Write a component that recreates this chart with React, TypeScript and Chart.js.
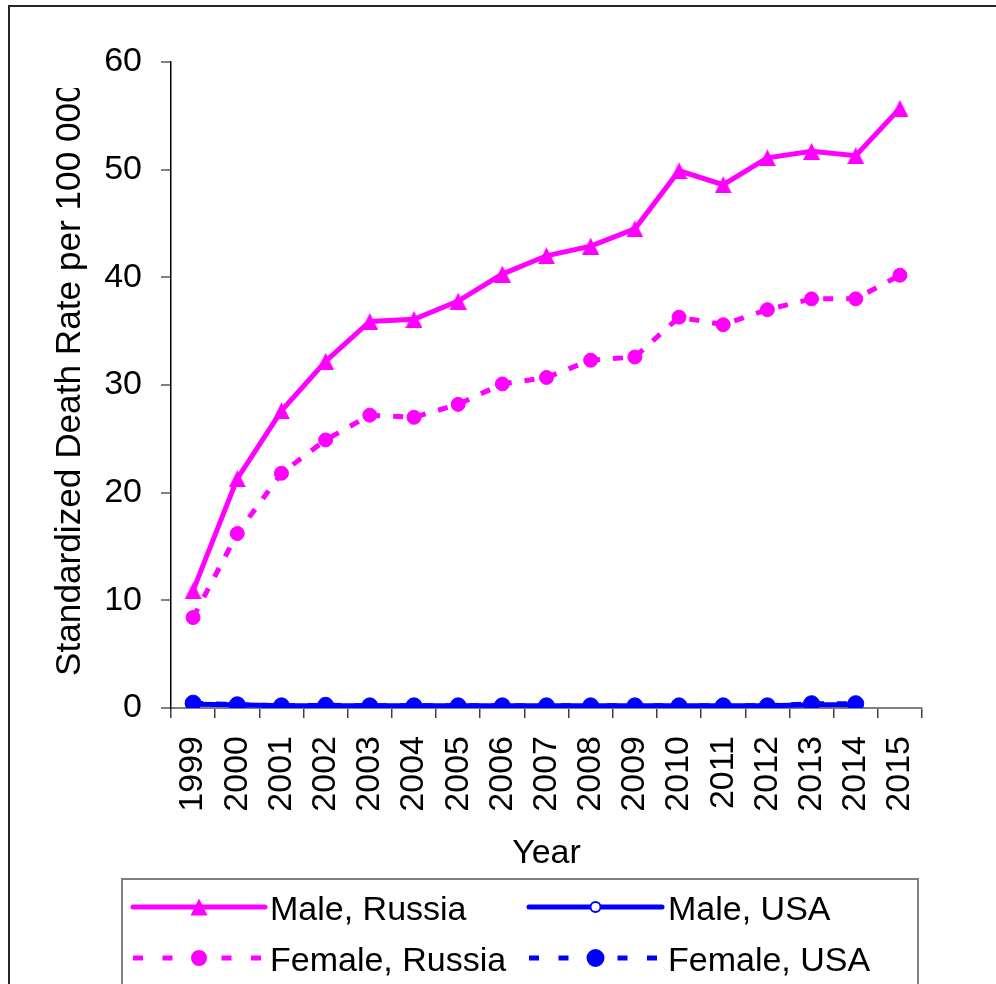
import { useEffect, useRef } from "react";
import { Chart, registerables } from "chart.js";

Chart.register(...registerables);

const FONT = "'Liberation Sans', Arial, sans-serif";

const years = [
  "1999", "2000", "2001", "2002", "2003", "2004", "2005", "2006", "2007",
  "2008", "2009", "2010", "2011", "2012", "2013", "2014", "2015",
];

const maleRussia = [
  10.9, 21.3, 27.6, 32.2, 35.9, 36.1, 37.8, 40.3, 42.0, 42.9, 44.5, 49.9, 48.6,
  51.1, 51.7, 51.3, 55.7,
];
const femaleRussia = [
  8.4, 16.2, 21.8, 24.9, 27.2, 27.0, 28.2, 30.1, 30.7, 32.3, 32.6, 36.3, 35.6,
  37.0, 38.0, 38.0, 40.2,
];
const maleUSA = [
  0.35, 0.3, 0.2, 0.2, 0.2, 0.2, 0.2, 0.2, 0.2, 0.2, 0.2, 0.2, 0.2, 0.2, 0.3,
  0.3,
];
const femaleUSA = [
  0.45, 0.3, 0.2, 0.25, 0.2, 0.2, 0.2, 0.2, 0.2, 0.2, 0.2, 0.2, 0.2, 0.2, 0.4,
  0.4,
];

const seriesLabels = ["Male, Russia", "Male, USA", "Female, Russia", "Female, USA"];
const yTicks = [0, 10, 20, 30, 40, 50, 60];
const yTitle = "Standardized Death Rate per 100 000";
const xTitle = "Year";

const MAGENTA = "#FF00FF";
const BLUE = "#0000FF";
const DASH = [10, 13];

type Style = {
  color: string;
  dash: number[];
  point: "triangle" | "circle";
  radius: number;
  fill: string;
};

const styles: Record<string, Style> = {
  "Male, Russia": { color: MAGENTA, dash: [], point: "triangle", radius: 9, fill: MAGENTA },
  "Male, USA": { color: BLUE, dash: [], point: "circle", radius: 5, fill: "#FFFFFF" },
  "Female, Russia": { color: MAGENTA, dash: DASH, point: "circle", radius: 7, fill: MAGENTA },
  "Female, USA": { color: BLUE, dash: DASH, point: "circle", radius: 8, fill: BLUE },
};

// triangle marker drawn inside a square box, apex up
function triangleImage(size: number, color: string): HTMLCanvasElement {
  const c = document.createElement("canvas");
  c.width = size;
  c.height = size;
  const g = c.getContext("2d")!;
  g.fillStyle = color;
  g.beginPath();
  g.moveTo(size / 2, 0);
  g.lineTo(size, size);
  g.lineTo(0, size);
  g.closePath();
  g.fill();
  return c;
}

function drawMarker(ctx: CanvasRenderingContext2D, s: Style, x: number, y: number) {
  ctx.save();
  ctx.setLineDash([]);
  ctx.fillStyle = s.fill;
  ctx.strokeStyle = s.color;
  ctx.lineWidth = 2;
  ctx.beginPath();
  if (s.point === "triangle") {
    const h = 17;
    ctx.moveTo(x, y - h / 2);
    ctx.lineTo(x + h / 2, y + h / 2);
    ctx.lineTo(x - h / 2, y + h / 2);
    ctx.closePath();
    ctx.fill();
  } else {
    ctx.arc(x, y, s.radius, 0, Math.PI * 2);
    ctx.fill();
    ctx.stroke();
  }
  ctx.restore();
}

const decorations = {
  id: "decorations",
  afterDraw(chart: Chart) {
    const ctx = chart.ctx;
    const area = chart.chartArea;
    ctx.save();

    // outer frame
    ctx.strokeStyle = "#262626";
    ctx.lineWidth = 2;
    ctx.strokeRect(9, 6, 1400, 1400);

    // y axis title, cut off above the top of its box
    ctx.save();
    ctx.beginPath();
    ctx.rect(0, 88, 160, 900);
    ctx.clip();
    ctx.translate(80, 676);
    ctx.rotate(-Math.PI / 2);
    ctx.font = `35.2px ${FONT}`;
    ctx.fillStyle = "#000";
    ctx.textAlign = "left";
    ctx.textBaseline = "alphabetic";
    ctx.fillText(yTitle, 0, 0);
    ctx.restore();

    // x axis title
    ctx.font = `34px ${FONT}`;
    ctx.fillStyle = "#000";
    ctx.textAlign = "center";
    ctx.textBaseline = "alphabetic";
    ctx.fillText(xTitle, (area.left + area.right) / 2, 863);

    // legend box
    ctx.strokeStyle = "#808080";
    ctx.lineWidth = 2;
    ctx.strokeRect(122, 879, 796, 400);

    const cols = [
      { x0: 133, x1: 265, tx: 270 },
      { x0: 529, x1: 662, tx: 668 },
    ];
    const rows = [907, 958];
    seriesLabels.forEach((label, i) => {
      const c = cols[i % 2];
      const y = rows[Math.floor(i / 2)];
      const s = styles[label];
      ctx.save();
      ctx.strokeStyle = s.color;
      ctx.lineWidth = 5;
      if (s.dash.length) {
        ctx.setLineDash([10, 19.5]);
        ctx.lineCap = "butt";
      } else {
        ctx.setLineDash([]);
        ctx.lineCap = "round";
      }
      ctx.beginPath();
      ctx.moveTo(c.x0, y);
      ctx.lineTo(c.x1, y);
      ctx.stroke();
      ctx.restore();
      if (s.dash.length) {
        // keep the marker in a gap of the dashes
        ctx.save();
        ctx.fillStyle = "#fff";
        const mx = (c.x0 + c.x1) / 2;
        ctx.fillRect(mx - 12, y - 4, 24, 8);
        ctx.restore();
      }
      drawMarker(ctx, s, (c.x0 + c.x1) / 2, y);
      ctx.font = `34px ${FONT}`;
      ctx.fillStyle = "#000";
      ctx.textAlign = "left";
      ctx.textBaseline = "alphabetic";
      ctx.fillText(label, c.tx, y + 13);
    });

    ctx.restore();
  },
};

function makeDataset(label: string, data: number[], order: number) {
  const s = styles[label];
  const pointStyle: any = s.point === "triangle" ? triangleImage(17, s.color) : "circle";
  return {
    label,
    data,
    order,
    borderColor: s.color,
    backgroundColor: s.fill,
    borderWidth: 5,
    borderDash: s.dash,
    pointStyle,
    pointRadius: s.radius,
    pointBackgroundColor: s.fill,
    pointBorderColor: s.color,
    pointBorderWidth: 1,
    tension: 0,
    fill: false,
  };
}

export default function App() {
  const canvasRef = useRef<HTMLCanvasElement | null>(null);

  useEffect(() => {
    const canvas = canvasRef.current;
    if (!canvas) return;
    const chart = new Chart(canvas, {
      type: "line",
      data: {
        labels: years,
        datasets: [
          makeDataset("Female, Russia", femaleRussia, 3),
          makeDataset("Male, Russia", maleRussia, 2),
          makeDataset("Male, USA", maleUSA, 1),
          makeDataset("Female, USA", femaleUSA, 0),
        ],
      },
      options: {
        responsive: false,
        animation: false,
        devicePixelRatio: 1,
        layout: { padding: { left: 0, top: 62, right: 74, bottom: 0 } },
        plugins: {
          legend: { display: false },
          tooltip: { enabled: false },
          title: { display: false },
        },
        scales: {
          x: {
            type: "category",
            offset: true,
            grid: {
              display: true,
              drawOnChartArea: false,
              drawTicks: true,
              tickLength: 10,
              color: "#404040",
              lineWidth: 1.5,
              offset: true,
            },
            border: { display: true, color: "#808080", width: 2 },
            ticks: {
              autoSkip: false,
              maxRotation: 90,
              minRotation: 90,
              padding: 18,
              color: "#000",
              font: { family: FONT, size: 34 },
            },
            afterFit: (scale: any) => {
              scale.height = 276;
            },
          },
          y: {
            min: 0,
            max: 60,
            afterBuildTicks: (scale: any) => {
              scale.ticks = yTicks.map((v) => ({ value: v }));
            },
            grid: {
              display: true,
              drawOnChartArea: false,
              drawTicks: true,
              tickLength: 10,
              color: "#808080",
              lineWidth: 2,
            },
            border: { display: true, color: "#000", width: 1.5 },
            ticks: {
              padding: 19,
              color: "#000",
              font: { family: FONT, size: 34 },
            },
            afterFit: (scale: any) => {
              scale.width = 171;
            },
          },
        },
      },
      plugins: [decorations],
    } as any);
    return () => chart.destroy();
  }, []);

  return (
    <div style={{ position: "absolute", left: 0, top: 0, width: 996, height: 984, background: "#fff" }}>
      <canvas ref={canvasRef} width={996} height={984} style={{ display: "block" }} />
    </div>
  );
}
